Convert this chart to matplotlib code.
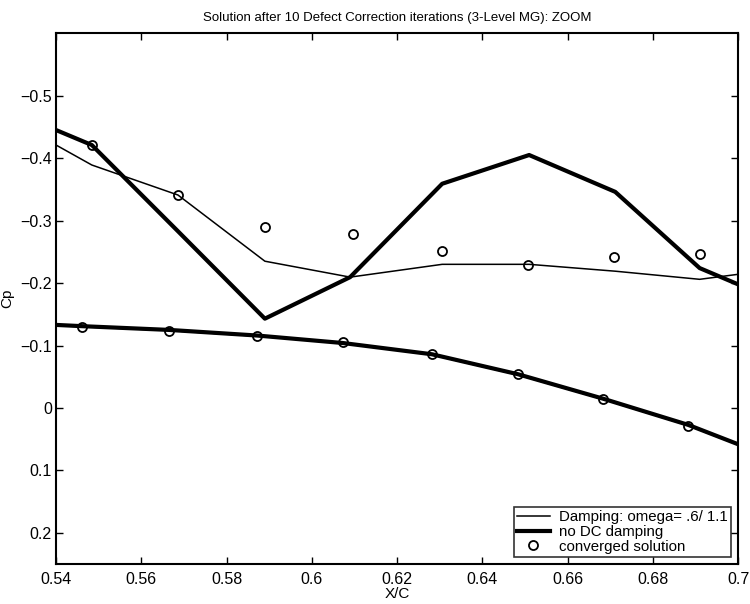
import matplotlib
matplotlib.use("Agg")
import matplotlib.pyplot as plt

plt.rcParams['font.family'] = ['Liberation Sans', 'DejaVu Sans']

# upper surface nodes
x_upper = [0.54, 0.5484, 0.5686, 0.589, 0.609, 0.6306, 0.651, 0.6712, 0.691, 0.70]
cp_damped_upper = [-0.421, -0.389, -0.341, -0.235, -0.2095, -0.230, -0.230, -0.219, -0.206, -0.214]
cp_nodamp_upper = [-0.445, -0.421, -0.283, -0.143, -0.2095, -0.359, -0.405, -0.346, -0.224, -0.198]

# lower surface nodes
x_lower = [0.54, 0.5461, 0.5665, 0.5872, 0.6073, 0.6282, 0.6484, 0.6683, 0.6883, 0.70]
cp_damped_lower = [-0.132, -0.130, -0.124, -0.115, -0.104, -0.085, -0.053, -0.014, 0.028, 0.059]
cp_nodamp_lower = [-0.133, -0.131, -0.125, -0.116, -0.104, -0.086, -0.054, -0.015, 0.027, 0.058]

# converged solution
x_conv = [0.5484, 0.5686, 0.589, 0.6097, 0.6306, 0.6507, 0.6709, 0.691,
          0.5461, 0.5665, 0.5872, 0.6073, 0.6282, 0.6484, 0.6683, 0.6883]
cp_conv = [-0.421, -0.341, -0.289, -0.278, -0.251, -0.229, -0.241, -0.246,
           -0.130, -0.124, -0.116, -0.105, -0.086, -0.054, -0.014, 0.029]

xticks = [0.54, 0.56, 0.58, 0.6, 0.62, 0.64, 0.66, 0.68, 0.7]
xtick_labels = ['0.54', '0.56', '0.58', '0.6', '0.62', '0.64', '0.66', '0.68', '0.7']
yticks = [-0.5, -0.4, -0.3, -0.2, -0.1, 0, 0.1, 0.2]
ytick_labels = ['\u22120.5', '\u22120.4', '\u22120.3', '\u22120.2', '\u22120.1', '0', '0.1', '0.2']

fig = plt.figure(figsize=(7.5, 6.04), dpi=100)
ax = fig.add_axes([0.0747, 0.066, 0.9093, 0.879])

ax.plot(x_upper, cp_damped_upper, color='black', lw=1.1, label='Damping: omega= .6/ 1.1')
ax.plot(x_upper, cp_nodamp_upper, color='black', lw=3.0, label='no DC damping')
ax.plot(x_lower, cp_damped_lower, color='black', lw=1.1)
ax.plot(x_lower, cp_nodamp_lower, color='black', lw=3.0)
ax.plot(x_conv, cp_conv, 'o', color='black', mfc='none', ms=6.5, mew=1.3, label='converged solution')

ax.set_xlim(0.54, 0.70)
ax.set_ylim(0.25, -0.6)
ax.set_xticks(xticks)
ax.set_xticklabels(xtick_labels)
ax.set_yticks(yticks)
ax.set_yticklabels(ytick_labels)
ax.tick_params(direction='in', top=True, right=True, length=5, width=1, labelsize=11.5)
ax.tick_params(axis='x', pad=6)
ax.tick_params(axis='y', pad=3)
for s in ax.spines.values():
    s.set_linewidth(1.5)

ax.set_title('Solution after 10 Defect Correction iterations (3-Level MG): ZOOM', fontsize=9.5, pad=9)
ax.set_xlabel('X/C', fontsize=11, labelpad=0)
ax.set_ylabel('Cp', fontsize=11, labelpad=4)

leg = ax.legend(loc='lower right', fontsize=10.8, frameon=True, fancybox=False,
                edgecolor='black', handlelength=2.2, borderaxespad=0.5,
                labelspacing=0.05, borderpad=0.2, handletextpad=0.6)
leg.get_frame().set_linewidth(1.2)

fig.savefig('out.png', dpi=100)
